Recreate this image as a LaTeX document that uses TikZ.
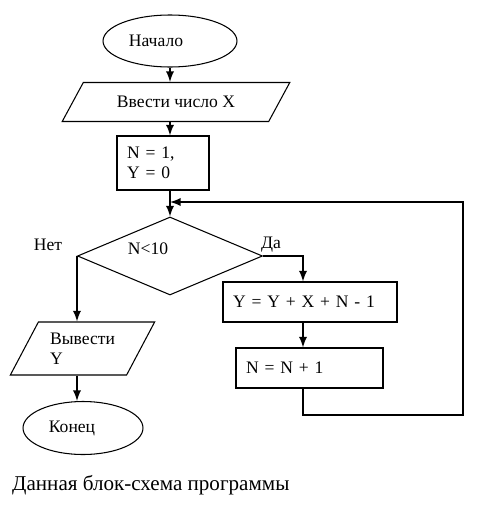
\documentclass[tikz,border=0pt]{standalone}
\usepackage{fontspec}
\setmainfont{Liberation Serif}
\usetikzlibrary{shapes.geometric, calc}

\begin{document}
\begin{tikzpicture}[x=0.02cm, y=-0.02cm, font=\fontsize{10}{11.5}\selectfont,
		blk/.style={draw, line width=0.6pt, inner sep=0pt},
		oval/.style={blk, ellipse},
		io/.style={blk, trapezium, trapezium stretches=true},
		op/.style={blk, rectangle, align=left, inner xsep=0.2cm},
		flow/.style={-latex, line width=1.1pt},
		ret/.style={line width=0.6pt}]
	\useasboundingbox (0,0) rectangle (487,507);

	% blocks
	\node[oval, minimum width=2.68cm, minimum height=1.04cm, label={[xshift=-0.28cm]center:Начало}] (start) at (170,41) {};
	\node[io, trapezium left angle=41, trapezium right angle=139, minimum width=4.56cm, minimum height=0.78cm] (inx) at (176,102) {Ввести число X};
	\node[op, minimum height=1.08cm, text width=1.44cm] (init) at (163,163) {N = 1,\\Y = 0};
	\node[blk, diamond, minimum width=3.7cm, minimum height=1.56cm, label={[xshift=-0.44cm, yshift=0.14cm]center:N<10}] (cond) at (170,256) {};
	\node[op, minimum height=0.8cm, text width=3.08cm] (sum) at (310,302) {Y = Y + X + N - 1};
	\node[op, minimum height=0.8cm, text width=2.54cm] (inc) at (309.5,368) {N = N + 1};
	\node[io, align=left, trapezium left angle=57, trapezium right angle=123, minimum width=2.9cm, minimum height=1.06cm] (outy) at (82.5,348.5) {Вывести\\Y};
	\node[oval, minimum width=2.4cm, minimum height=1.06cm, label={[xshift=-0.22cm]center:Конец}] (stop) at (83,428) {};

	% branch labels
	\node (no) at (48,245) {Нет};
	\node (yes) at (271,245) {Да};

	\node[anchor=base west, font=\fontsize{12}{14}\selectfont] (title) at (6,490) {Данная блок-схема программы};

	% main column
	\draw[flow] (start.south) -- (start.south |- inx.north);
	\draw[flow] (start.south |- inx.south) -- (start.south |- init.north);
	\draw[flow] (start.south |- init.south) -- (cond.north);

	% no branch
	\draw[flow] (cond.west) -- (cond.west |- outy.north);
	\draw[flow] (cond.west |- outy.south) -- (cond.west |- stop.north);

	% yes branch
	\coordinate (col) at (303,0);
	\draw[flow] (cond.east) -| (col |- sum.north);
	\draw[flow] (col |- sum.south) -- (col |- inc.north);

	% loop back
	\coordinate (corner) at (463,415);
	\coordinate (back) at (277,202);
	\draw[ret] (col |- inc.south) |- (corner) |- (back);
	\draw[flow] (back) -- (start.south |- back);
\end{tikzpicture}
\end{document}
